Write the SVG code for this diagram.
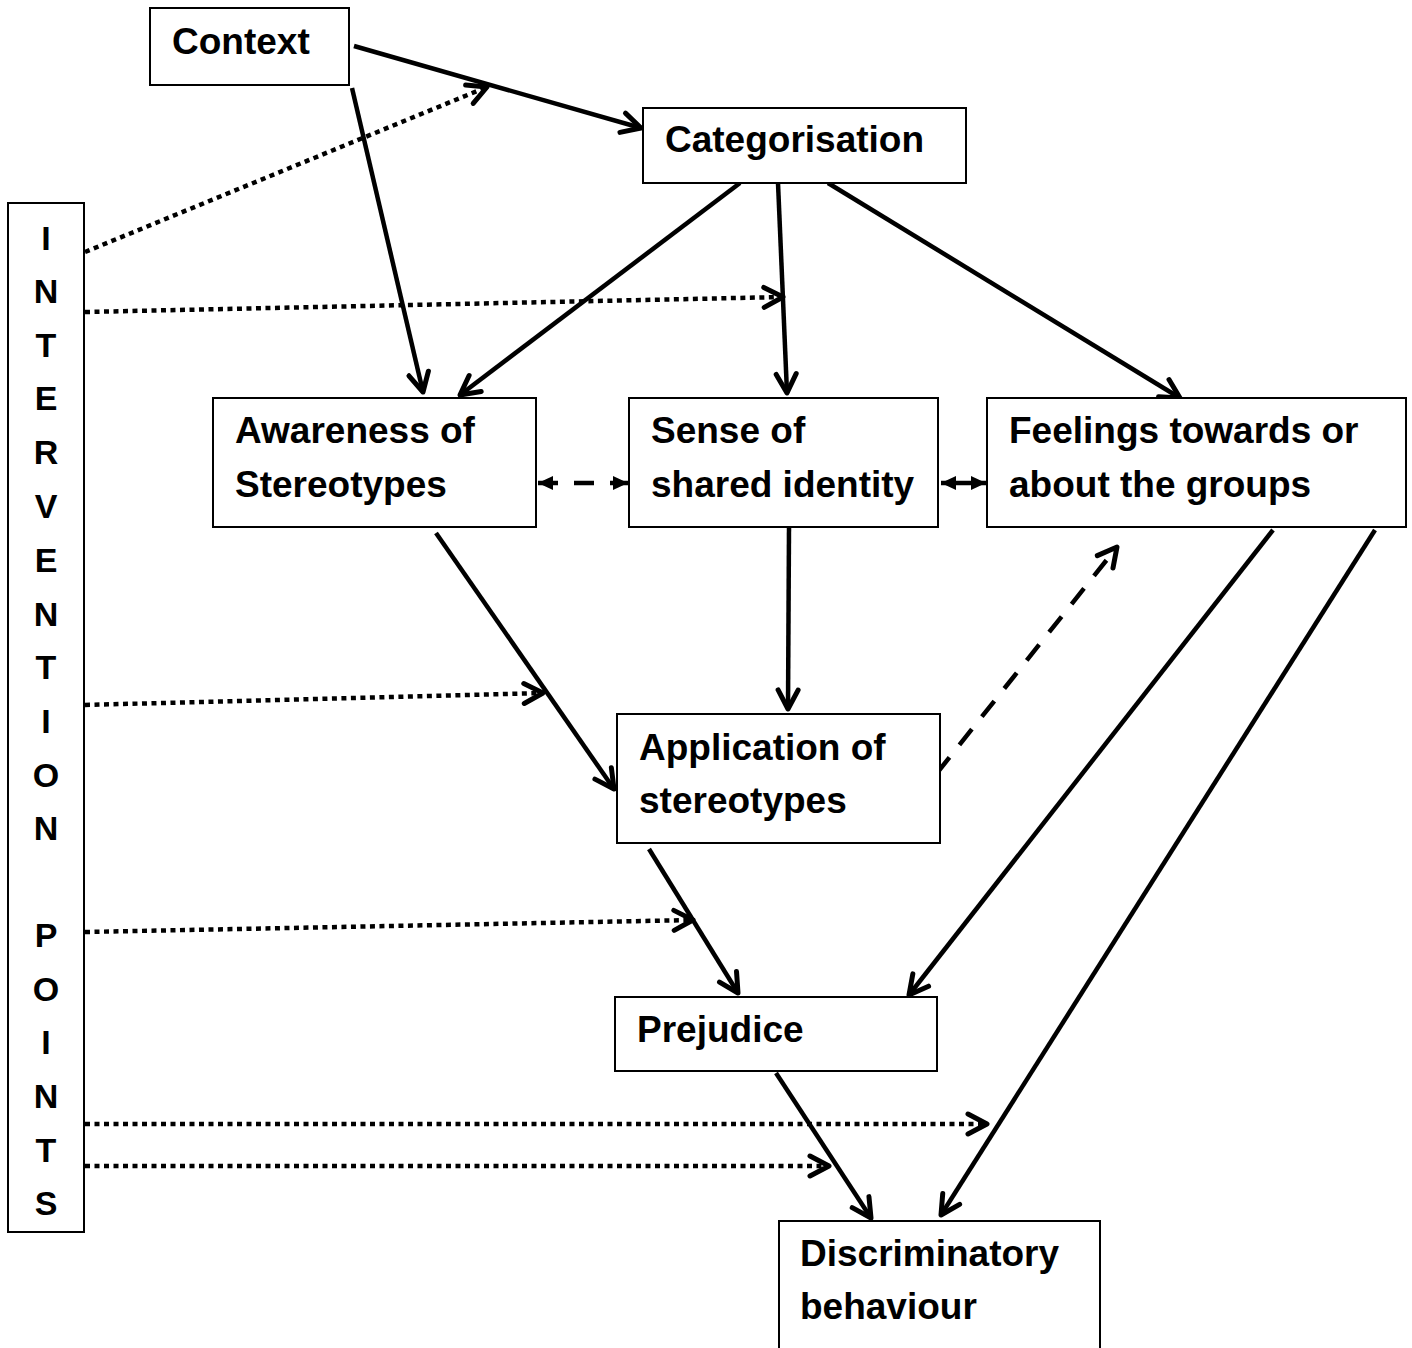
<svg xmlns="http://www.w3.org/2000/svg" width="1412" height="1348" viewBox="0 0 1412 1348">
<defs>
<marker id="chev" viewBox="0 0 26 26" refX="23" refY="13" markerWidth="26" markerHeight="26" markerUnits="userSpaceOnUse" orient="auto">
<path d="M4,3 L23,13 L4,23" fill="none" stroke="#000" stroke-width="5" stroke-dasharray="none" stroke-linecap="round" stroke-linejoin="round"/>
</marker>
<marker id="tri" viewBox="0 0 16 16" refX="15" refY="8" markerWidth="16" markerHeight="16" markerUnits="userSpaceOnUse" orient="auto-start-reverse">
<path d="M0,1 L15,8 L0,15 z" fill="#000" stroke="none"/>
</marker>
</defs>
<style>
.box{fill:#fff;stroke:#000;stroke-width:2}
.t{font-family:"Liberation Sans",Arial,sans-serif;font-weight:bold;font-size:37px;fill:#000}
.v{font-family:"Liberation Sans",Arial,sans-serif;font-weight:bold;font-size:34px;fill:#000;text-anchor:middle}
.solid{stroke:#000;stroke-width:4.5;fill:none;marker-end:url(#chev)}
.dot{stroke:#000;stroke-width:4.5;fill:none;stroke-dasharray:5 4.5;marker-end:url(#chev)}
.dash{stroke:#000;stroke-width:4.5;fill:none;stroke-dasharray:20 16}
</style>
<rect width="1412" height="1348" fill="#fff"/>
<g id="connectors">
<line class="solid" x1="354" y1="46" x2="641" y2="128"/>
<line class="solid" x1="352" y1="88" x2="423" y2="392"/>
<line class="solid" x1="740" y1="183" x2="460" y2="395"/>
<line class="solid" x1="778" y1="183" x2="787" y2="393"/>
<line class="solid" x1="828" y1="183" x2="1180" y2="398"/>
<line class="solid" x1="436" y1="533" x2="614" y2="789"/>
<line class="solid" x1="789" y1="527" x2="788" y2="709"/>
<line class="solid" x1="649" y1="849" x2="738" y2="993"/>
<line class="solid" x1="1273" y1="530" x2="909" y2="995"/>
<line class="solid" x1="1375" y1="530" x2="941" y2="1215"/>
<line class="solid" x1="776" y1="1073" x2="871" y2="1218"/>
<line class="dash" x1="538" y1="483" x2="628" y2="483" marker-start="url(#tri)" marker-end="url(#tri)"/>
<line stroke="#000" stroke-width="4.5" x1="941" y1="483" x2="986" y2="483" marker-start="url(#tri)" marker-end="url(#tri)"/>
<line class="dash" x1="937" y1="773" x2="1117" y2="547" marker-end="url(#chev)"/>
<line class="dot" x1="85" y1="252" x2="487" y2="87"/>
<line class="dot" x1="85" y1="312" x2="783" y2="297"/>
<line class="dot" x1="85" y1="705" x2="543" y2="693"/>
<line class="dot" x1="85" y1="932" x2="693" y2="920"/>
<line class="dot" x1="85" y1="1124" x2="987" y2="1124"/>
<line class="dot" x1="85" y1="1166" x2="829" y2="1166"/>
</g>
<g id="context"><rect class="box" x="150" y="8" width="199" height="77"/><text class="t" x="172" y="54">Context</text></g>
<g id="categorisation"><rect class="box" x="643" y="108" width="323" height="75"/><text class="t" x="665" y="152">Categorisation</text></g>
<g id="awareness"><rect class="box" x="213" y="398" width="323" height="129"/><text class="t" x="235" y="443">Awareness of</text><text class="t" x="235" y="497">Stereotypes</text></g>
<g id="sense"><rect class="box" x="629" y="398" width="309" height="129"/><text class="t" x="651" y="443">Sense of</text><text class="t" x="651" y="497">shared identity</text></g>
<g id="feelings"><rect class="box" x="987" y="398" width="419" height="129"/><text class="t" x="1009" y="443">Feelings towards or</text><text class="t" x="1009" y="497">about the groups</text></g>
<g id="application"><rect class="box" x="617" y="714" width="323" height="129"/><text class="t" x="639" y="760">Application of</text><text class="t" x="639" y="813">stereotypes</text></g>
<g id="prejudice"><rect class="box" x="615" y="997" width="322" height="74"/><text class="t" x="637" y="1042">Prejudice</text></g>
<g id="discriminatory"><rect class="box" x="779" y="1221" width="321" height="140"/><text class="t" x="800" y="1266">Discriminatory</text><text class="t" x="800" y="1319">behaviour</text></g>
<g id="intervention-points"><rect class="box" x="8" y="203" width="76" height="1029"/>
<text class="v" x="46" y="250">I</text>
<text class="v" x="46" y="303">N</text>
<text class="v" x="46" y="357">T</text>
<text class="v" x="46" y="410">E</text>
<text class="v" x="46" y="464">R</text>
<text class="v" x="46" y="518">V</text>
<text class="v" x="46" y="572">E</text>
<text class="v" x="46" y="626">N</text>
<text class="v" x="46" y="679">T</text>
<text class="v" x="46" y="733">I</text>
<text class="v" x="46" y="787">O</text>
<text class="v" x="46" y="840">N</text>
<text class="v" x="46" y="947">P</text>
<text class="v" x="46" y="1001">O</text>
<text class="v" x="46" y="1054">I</text>
<text class="v" x="46" y="1108">N</text>
<text class="v" x="46" y="1162">T</text>
<text class="v" x="46" y="1215">S</text>
</g>
</svg>
